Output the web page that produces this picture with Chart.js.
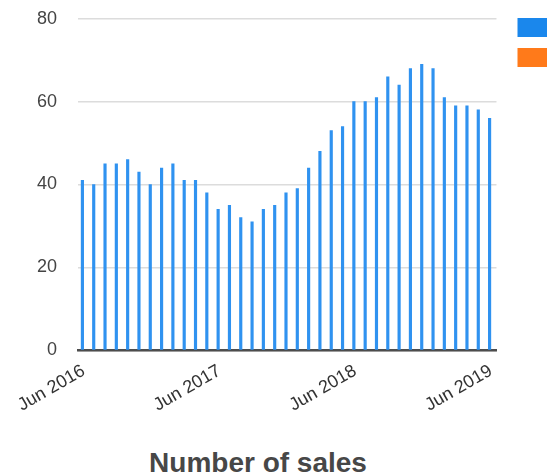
<!DOCTYPE html>
<html>
<head>
<meta charset="utf-8">
<script src="https://cdn.jsdelivr.net/npm/chart.js@4/dist/chart.umd.min.js"></script>
<style>
  html, body { margin: 0; padding: 0; background: #fff; }
  #wrap { position: relative; width: 547px; height: 475px; overflow: hidden; }
  #chart { position: absolute; left: 0; top: 0; }
  #title {
    position: absolute; left: 0; top: 449px; width: 516px;
    text-align: center; font: bold 28px "Liberation Sans", Arial, sans-serif;
    line-height: 28px; color: #474747; white-space: nowrap;
  }
</style>
</head>
<body>
<div id="wrap">
  <canvas id="chart" width="660" height="415"></canvas>
  <div id="title">Number of sales</div>
</div>
<script>
(function () {
  'use strict';

  // --- data ---
  var months = [
    'Jun 2016', 'Jul 2016', 'Aug 2016', 'Sep 2016', 'Oct 2016', 'Nov 2016', 'Dec 2016',
    'Jan 2017', 'Feb 2017', 'Mar 2017', 'Apr 2017', 'May 2017', 'Jun 2017', 'Jul 2017',
    'Aug 2017', 'Sep 2017', 'Oct 2017', 'Nov 2017', 'Dec 2017', 'Jan 2018', 'Feb 2018',
    'Mar 2018', 'Apr 2018', 'May 2018', 'Jun 2018', 'Jul 2018', 'Aug 2018', 'Sep 2018',
    'Oct 2018', 'Nov 2018', 'Dec 2018', 'Jan 2019', 'Feb 2019', 'Mar 2019', 'Apr 2019',
    'May 2019', 'Jun 2019'
  ];
  var sales = [
    41, 40, 45, 45, 46, 43, 40, 44, 45, 41, 41, 38, 34, 35, 32, 31, 34, 35, 38,
    39, 44, 48, 53, 54, 60, 60, 61, 66, 64, 68, 69, 68, 61, 59, 59, 58, 56
  ];
  var tickLabels = ['Jun 2016', 'Jun 2017', 'Jun 2018', 'Jun 2019'];
  var seriesNames = ['Number of sales', 'Average price'];

  var BLUE = '#2f92f0';
  var LEGEND_BLUE = '#1a87ec';
  var ORANGE = '#ff7a1a';
  var FONT = '"Liberation Sans", Arial, sans-serif';

  // where the plot sits in the reference
  var AREA = { left: 78, right: 495, top: 18, bottom: 350 };

  function config(padLeft) {
    return {
      type: 'bar',
      data: {
        labels: months,
        datasets: [
          { label: seriesNames[0], data: sales, backgroundColor: BLUE, borderWidth: 0, barThickness: 2.5 },
          { label: seriesNames[1], data: [], backgroundColor: ORANGE, borderWidth: 0 }
        ]
      },
      options: {
        responsive: false,
        animation: false,
        layout: { padding: { left: padLeft, top: 7, right: 0, bottom: 0 } },
        plugins: {
          title: { display: false },
          tooltip: { enabled: false },
          legend: {
            position: 'right',
            align: 'start',
            labels: {
              boxWidth: 40, boxHeight: 19, padding: 11,
              color: '#333', font: { family: FONT, size: 12 },
              generateLabels: function (chart) {
                return Chart.defaults.plugins.legend.labels.generateLabels(chart).map(function (it, i) {
                  if (i === 0) { it.fillStyle = LEGEND_BLUE; }
                  return it;
                });
              }
            }
          }
        },
        scales: {
          x: {
            grid: { display: false },
            border: { display: true, color: '#4d4d4d', width: 2.5 },
            ticks: {
              autoSkip: false, minRotation: 30, maxRotation: 30, padding: 2,
              color: '#333', font: { family: FONT, size: 18 },
              callback: function (v, i) {
                var m = months[i];
                return tickLabels.indexOf(m) >= 0 ? m : '';
              }
            }
          },
          y: {
            min: 0, max: 80,
            grid: { color: '#dcdcdc', lineWidth: 1.5, drawTicks: true, tickLength: 13, tickColor: 'rgba(0,0,0,0)' },
            border: { display: false },
            ticks: { stepSize: 20, padding: 8, color: '#444', font: { family: FONT, size: 18 } }
          },
          gap: {
            type: 'linear', position: 'right', display: true,
            grid: { display: false }, border: { display: false }, ticks: { display: false },
            afterFit: function (s) { s.width = 10; }
          }
        }
      }
    };
  }

  var canvas = document.getElementById('chart');
  var padLeft = 16;
  var chart = null;

  // two fitting passes, then the final draw
  for (var pass = 0; pass < 3; pass++) {
    if (chart) { chart.destroy(); }
    chart = new Chart(canvas, config(padLeft));
    if (pass === 2) { break; }
    var a = chart.chartArea;
    padLeft = Math.max(0, padLeft + (AREA.left - a.left));
    var w = canvas.width + Math.round(AREA.right - a.right);
    var h = canvas.height + Math.round(AREA.bottom - a.bottom);
    chart.destroy();
    chart = null;
    canvas.width = w;
    canvas.height = h;
  }
})();
</script>
</body>
</html>
